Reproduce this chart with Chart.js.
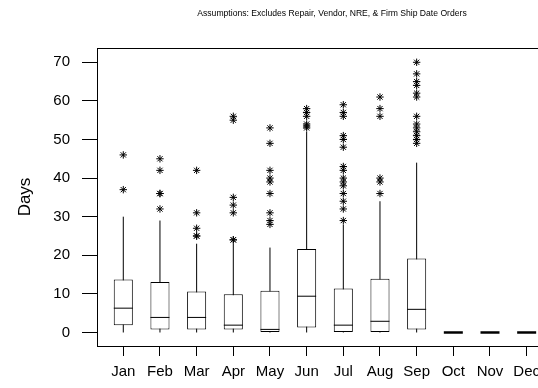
<!DOCTYPE html>
<html>
<head>
<meta charset="utf-8">
<script src="https://cdn.jsdelivr.net/npm/chart.js@4.4.1/dist/chart.umd.min.js"></script>
<style>
html, body { margin: 0; padding: 0; background: #fff; overflow: hidden; }
#wrap { position: relative; width: 580px; height: 388px; }
#title {
    position: absolute; left: 97px; width: 470px; top: 8px;
    text-align: center; font: 8.6px 'Liberation Sans', Arial, sans-serif; color: #000;
    white-space: nowrap;
}
</style>
</head>
<body>
<div id="wrap">
    <canvas id="chart" width="580" height="388"></canvas>
    <div id="title">Assumptions: Excludes Repair, Vendor, NRE, &amp; Firm Ship Date Orders</div>
</div>
<script>
// Box plot of days per month (Minitab style)
var months = ['Jan', 'Feb', 'Mar', 'Apr', 'May', 'Jun', 'Jul', 'Aug', 'Sep', 'Oct', 'Nov', 'Dec'];
var yTicks = [0, 10, 20, 30, 40, 50, 60, 70];

var whiskerLow  = [0, 0, 0, 0, 0, 0, 0, 0, 0, 0, 0, 0];
var q1          = [1.9, 0.8, 0.8, 0.8, 0, 1.3, 0, 0, 0.8, 0, 0, 0];
var median      = [6.3, 3.9, 3.9, 1.9, 0.8, 9.4, 1.9, 2.9, 6.0, 0, 0, 0];
var q3          = [13.7, 13.1, 10.6, 9.9, 10.8, 21.6, 11.4, 13.9, 19.2, 0, 0, 0];
var whiskerHigh = [30, 29, 23, 23, 22, 52, 28, 34, 44, 0, 0, 0];

var outliers = [
    [37, 46],
    [32, 36, 36, 42, 45],
    [25, 25, 27, 31, 42],
    [24, 24, 31, 33, 35, 55, 56],
    [28, 29, 31, 36, 39, 40, 42, 49, 53],
    [53, 53.5, 54, 56, 57, 58],
    [29, 32, 34, 36, 38, 39, 40, 42, 43, 48, 50, 51, 56, 57, 59],
    [36, 39, 40, 56, 58, 61],
    [49, 50, 51, 52, 53, 54, 56, 61, 62, 64, 65, 67, 70],
    [], [], []
];

Chart.defaults.font.family = "'Liberation Sans', Arial, sans-serif";
Chart.defaults.color = '#000';

var boxData = months.map(function(m, i) { return { x: i + 1, y: [q1[i], q3[i]] }; });
var medianData = months.map(function(m, i) { return { x: i + 1, y: median[i] }; });

var whiskerData = [];
months.forEach(function(m, i) {
    if (whiskerHigh[i] > whiskerLow[i]) {
        whiskerData.push({ x: i + 1, y: whiskerLow[i] });
        whiskerData.push({ x: i + 1, y: whiskerHigh[i] });
        whiskerData.push({ x: i + 1, y: null });
    }
});

var outlierData = [];
outliers.forEach(function(list, i) {
    list.forEach(function(v) { outlierData.push({ x: i + 1, y: v }); });
});

// top edge of the plot frame
var framePlugin = {
    id: 'frame',
    afterDraw: function(chart) {
        var a = chart.chartArea, ctx = chart.ctx;
        ctx.save();
        ctx.strokeStyle = '#000';
        ctx.lineWidth = 1;
        ctx.beginPath();
        ctx.moveTo(Math.round(a.left) + 0.5, Math.round(a.top) + 0.5);
        ctx.lineTo(a.right, Math.round(a.top) + 0.5);
        ctx.stroke();
        ctx.restore();
    }
};

new Chart(document.getElementById('chart').getContext('2d'), {
    type: 'bar',
    data: {
        datasets: [
            {
                type: 'line',
                label: 'Whiskers',
                data: whiskerData,
                borderColor: '#000',
                borderWidth: 1,
                pointRadius: 0,
                spanGaps: false,
                order: 3
            },
            {
                type: 'bar',
                label: 'Box',
                data: boxData,
                backgroundColor: '#fff',
                borderColor: '#000',
                borderWidth: 1,
                borderSkipped: false,
                barPercentage: 0.52,
                categoryPercentage: 1,
                order: 2
            },
            {
                type: 'line',
                label: 'Median',
                data: medianData,
                showLine: false,
                pointStyle: 'line',
                pointRadius: 9.5,
                borderColor: '#000',
                pointBorderWidth: function(ctx) {
                    var i = ctx.dataIndex;
                    return q1[i] === q3[i] ? 2.5 : 1;
                },
                order: 1
            },
            {
                type: 'line',
                label: 'Outliers',
                data: outlierData,
                showLine: false,
                pointStyle: 'star',
                pointRadius: 3.7,
                borderColor: '#000',
                pointBorderWidth: 1,
                order: 0
            }
        ]
    },
    options: {
        responsive: false,
        animation: false,
        events: [],
        layout: { padding: { left: 0, right: 13, top: 48, bottom: 0 } },
        plugins: {
            legend: { display: false },
            tooltip: { enabled: false },
            title: { display: false }
        },
        scales: {
            x: {
                type: 'linear',
                position: 'bottom',
                offset: false,
                min: 0.283,
                max: 13.1,
                afterBuildTicks: function(s) {
                    s.ticks = months.map(function(m, i) { return { value: i + 1 }; });
                },
                ticks: {
                    autoSkip: false,
                    maxRotation: 0,
                    padding: 7,
                    color: '#000',
                    font: { size: 15, lineHeight: 1.2 },
                    callback: function(v) { return months[v - 1] || ''; }
                },
                grid: {
                    offset: false,
                    drawOnChartArea: false,
                    tickLength: 10,
                    color: '#000'
                },
                border: { color: '#000', width: 1 }
            },
            y: {
                type: 'linear',
                min: -3.5,
                max: 73.7,
                afterBuildTicks: function(s) {
                    s.ticks = yTicks.map(function(v) { return { value: v }; });
                },
                afterFit: function(s) { s.width = 97; },
                ticks: {
                    padding: 12,
                    color: '#000',
                    font: { size: 15 }
                },
                grid: { drawOnChartArea: false, tickLength: 15, color: '#000' },
                border: { color: '#000', width: 1 },
                title: {
                    display: true,
                    text: 'Days',
                    color: '#000',
                    font: { size: 17, lineHeight: 1.2 },
                    padding: { top: 15, bottom: 0 }
                }
            }
        }
    },
    plugins: [framePlugin]
});
</script>
</body>
</html>
